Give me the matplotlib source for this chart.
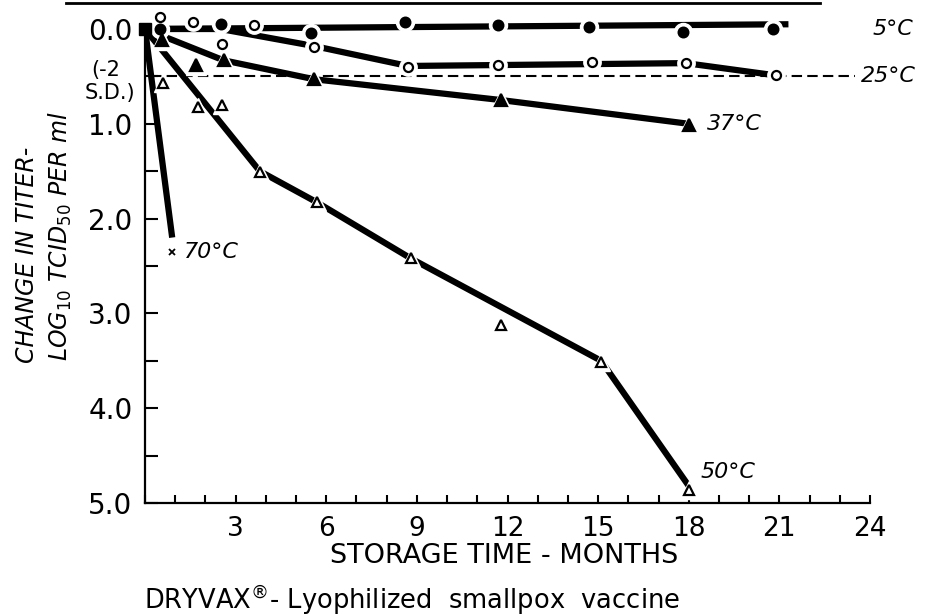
import matplotlib
matplotlib.use("Agg")
import matplotlib.pyplot as plt
from matplotlib.ticker import FixedLocator, MultipleLocator
from matplotlib.lines import Line2D

# Measured points: storage time (months) vs change in titer (log10 TCID50/ml)
m5 = [0.5, 2.5, 5.5, 8.6, 11.7, 14.7, 17.8, 20.8]
v5 = [0.0, -0.05, 0.04, -0.07, -0.04, -0.02, 0.03, 0.0]
m25 = [0.5, 1.6, 2.55, 3.6, 5.6, 8.7, 11.7, 14.8, 17.9, 20.9]
v25 = [-0.13, -0.07, 0.16, -0.04, 0.19, 0.40, 0.38, 0.35, 0.36, 0.49]
m37 = [0.56, 1.7, 2.6, 5.6, 11.8, 18.0]
v37 = [0.12, 0.38, 0.33, 0.53, 0.75, 1.01]
m50 = [0.6, 1.75, 2.55, 3.8, 5.7, 8.8, 11.8, 15.1, 18.0]
v50 = [0.57, 0.82, 0.80, 1.51, 1.83, 2.42, 3.12, 3.51, 4.86]
m70 = [0.9]
v70 = [2.35]

# Hand drawn trend lines
fit5_m, fit5_v = [0, 21.3], [0, -0.05]
fit25_m, fit25_v = [0, 2.5, 5.6, 8.7, 17.9, 20.9], [0, 0, 0.18, 0.39, 0.36, 0.49]
fit37_m, fit37_v = [0, 2.6, 5.6, 11.8, 18.0], [0, 0.33, 0.53, 0.75, 1.0]
fit50_m, fit50_v = [0, 3.8, 5.7, 8.8, 15.1, 18.0], [0, 1.5, 1.83, 2.42, 3.5, 4.82]
fit70_m, fit70_v = [0, 0.9], [0, 2.2]

# -2 S.D. limit
sd_level = 0.5
sd_range = [0.2, 23.5]

xticks = [3, 6, 9, 12, 15, 18, 21, 24]
yticks = [0, 1, 2, 3, 4, 5]

W, H = 925, 616
fig = plt.figure(figsize=(W / 100, H / 100), dpi=100)

# axes placed so that 0 month -> x=145px, 24 -> 870px ; 0.0 -> y=29px, 5.0 -> y=503px
y_top = -0.25
px_per_unit = 94.8
top_px = 29 + y_top * px_per_unit
ax = fig.add_axes([145 / W, (H - 503) / H, (870 - 145) / W, (503 - top_px) / H])
ax.set_xlim(0, 24)
ax.set_ylim(5.0, y_top)

lw = 4.5
# trend lines
for fm, fv in [(fit5_m, fit5_v), (fit25_m, fit25_v), (fit37_m, fit37_v),
               (fit50_m, fit50_v), (fit70_m, fit70_v)]:
    ax.plot(fm, fv, color="black", lw=lw, solid_capstyle="butt", zorder=2)

# -2 S.D. dashed line
ax.plot(sd_range, [sd_level, sd_level], color="black", lw=1.5, dashes=(5, 2.5), zorder=2)

# origin blob
ax.plot([0], [0], marker="s", ms=8, color="black", zorder=5, clip_on=False)

series = [
    (m5, v5, "o", "black", 7),
    (m25, v25, "o", "white", 6.5),
    (m37, v37, "^", "black", 8),
    (m50, v50, "^", "white", 7.5),
]
# white halos to break the lines around each point
for mm, vv, mk, fc, ms in series:
    ax.plot(mm, vv, ls="none", marker=mk, ms=ms + 6, mfc="white", mec="white", zorder=3, clip_on=False)
for mm, vv, mk, fc, ms in series:
    ax.plot(mm, vv, ls="none", marker=mk, ms=ms, mfc=fc, mec="black", mew=1.6, zorder=4, clip_on=False)
ax.plot(m70, v70, ls="none", marker="x", ms=5, mec="black", mew=1.3, zorder=4)

# spines / ticks
for s in ["top", "right"]:
    ax.spines[s].set_visible(False)
ax.spines["left"].set_bounds(0, 5)
ax.spines["bottom"].set_bounds(0, 24)
ax.spines["left"].set_linewidth(1.6)
ax.spines["bottom"].set_linewidth(1.6)

ax.xaxis.set_major_locator(FixedLocator(xticks))
ax.xaxis.set_minor_locator(MultipleLocator(1))
ax.yaxis.set_major_locator(FixedLocator(yticks))
ax.yaxis.set_minor_locator(MultipleLocator(0.5))
ax.set_xticklabels([str(t) for t in xticks])
ax.set_yticklabels([f"{t:.1f}" for t in yticks])
ax.tick_params(axis="x", which="both", direction="in", length=6, width=1.5, labelsize=19, pad=9)
ax.tick_params(axis="y", which="both", direction="in", length=9, width=1.5, labelsize=20, pad=9)

# series labels
lab = dict(fontsize=16, style="italic", va="center", ha="left", clip_on=False)
ax.text(24.1, 0.0, "5°C", **lab)
ax.text(23.7, 0.5, "25°C", **lab)
ax.text(18.6, 1.0, "37°C", **lab)
ax.text(18.4, 4.67, "50°C", **lab)
ax.text(1.3, 2.35, "70°C", **lab)


def fx(px):
    return px / W


def fy(py):
    return 1 - py / H


fig.text(fx(106), fy(70), "(-2", fontsize=15, ha="center", va="center")
fig.text(fx(110), fy(93), "S.D.)", fontsize=15, ha="center", va="center")

fig.text(fx(27), fy(255), "CHANGE IN TITER-", fontsize=17, style="italic",
         rotation=90, ha="center", va="center")
fig.text(fx(60), fy(236), r"LOG$_{\mathit{10}}$ TCID$_{\mathit{50}}$ PER ml", fontsize=17, style="italic",
         rotation=90, ha="center", va="center")

fig.text(fx(504), fy(556), "STORAGE TIME - MONTHS", fontsize=19.5, ha="center", va="center")
fig.text(fx(412), fy(600), "DRYVAX$^{\u00ae}$- Lyophilized  smallpox  vaccine", fontsize=18.5,
         ha="center", va="center")

# scan border along the top
fig.add_artist(Line2D([fx(66), fx(820)], [fy(3), fy(3)], color="black", lw=2))

fig.savefig("out.png", dpi=100)
